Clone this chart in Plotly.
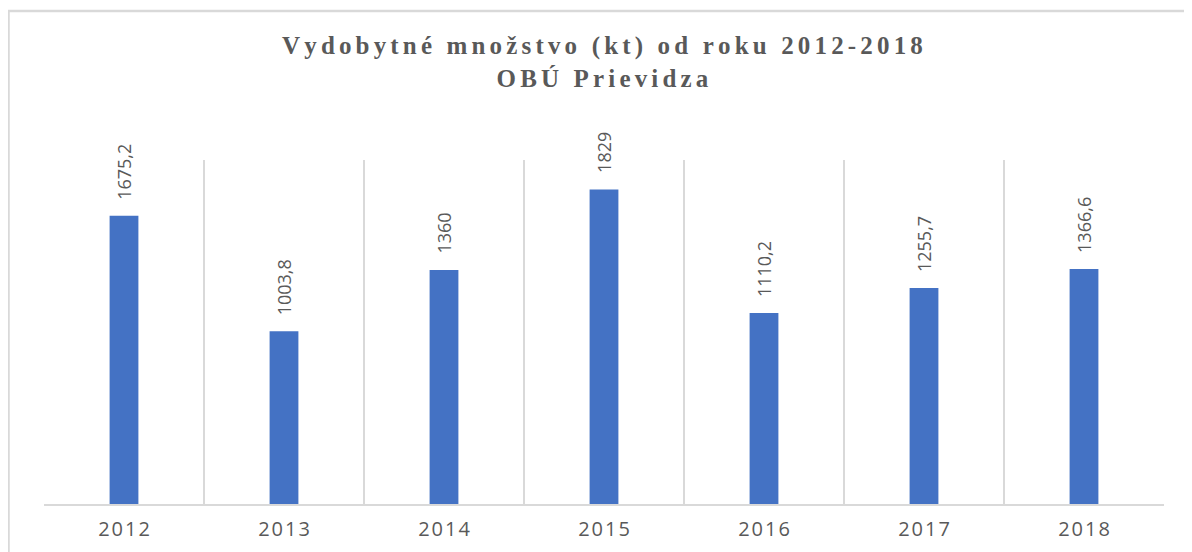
import plotly.graph_objects as go

years = ["2012", "2013", "2014", "2015", "2016", "2017", "2018"]
values = [1675.2, 1003.8, 1360, 1829, 1110.2, 1255.7, 1366.6]
title_line1 = "Vydobytné množstvo (kt) od roku 2012-2018"
title_line2 = "OBÚ Prievidza"

SIXTH = "\u2006"
HAIR = "\u200A"

# page body has an 8px margin; figure pixel coords = reference coords - 8
W, H = 1184, 544
L, R, T, B = 36, 28, 152, 48
PW, PH = W - L - R, H - T - B


def px_x(p):
    return (p - L) / PW


def px_y(p):
    return (H - B - p) / PH


def spaced(s, sep):
    return sep.join(list(s))


def fmt(v):
    return ("%g" % v).replace(".", ",")


tick_text = [spaced(y, HAIR) for y in years]

fig = go.Figure()
fig.add_trace(go.Bar(
    x=years, y=values, width=0.18,
    marker=dict(color="#4472C4", line=dict(width=0)),
    hoverinfo="skip",
))

annotations = []
for i, v in enumerate(values):
    annotations.append(dict(
        x=i, y=v, xref="x", yref="y", text=fmt(v), showarrow=False,
        textangle=-90, yanchor="bottom", xanchor="center", yshift=14,
        font=dict(family="Open Sans", size=18, color="#595959"),
    ))

annotations.append(dict(
    xref="paper", yref="paper", x=px_x(594), y=px_y(54),
    text=spaced(title_line1, SIXTH) + "<br>" + spaced(title_line2, SIXTH),
    showarrow=False, xanchor="center", yanchor="middle",
    font=dict(family="Liberation Serif", size=25, color="#595959", weight="bold"),
))

fig.update_layout(
    width=W, height=H,
    margin=dict(l=L, r=R, t=T, b=B, autoexpand=False),
    paper_bgcolor="white", plot_bgcolor="white",
    showlegend=False,
    annotations=annotations,
    shapes=[dict(
        type="rect", xref="paper", yref="paper",
        x0=px_x(0.5), x1=px_x(1200),
        y0=px_y(570), y1=px_y(3),
        line=dict(color="#D9D9D9", width=2.5), fillcolor="rgba(0,0,0,0)",
        layer="below",
    )],
    xaxis=dict(
        type="category", tickmode="array", tickvals=years, ticktext=tick_text,
        tickson="boundaries", ticks="", showgrid=True, gridcolor="#D9D9D9",
        gridwidth=1.5, showline=True, linecolor="#D9D9D9", linewidth=1.5,
        range=[-0.5, 6.5], ticklabelstandoff=6, automargin=False,
        tickfont=dict(family="Open Sans", size=20, color="#595959"),
    ),
    yaxis=dict(
        range=[0, 2000], showgrid=False, showticklabels=False,
        zeroline=False, showline=False, ticks="", automargin=False,
    ),
)

fig.write_html("out.html")
